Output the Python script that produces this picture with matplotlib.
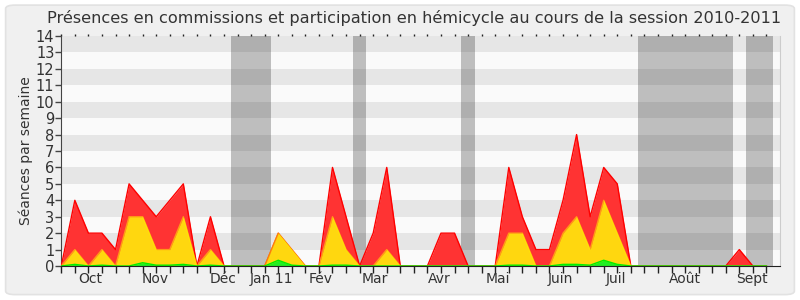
import matplotlib
matplotlib.use("Agg")
import matplotlib.pyplot as plt
from matplotlib.patches import FancyBboxPatch
import numpy as np

# weekly values, session 2010-2011 (week index 0 = end of september)
weeks = list(range(53))
total = [0, 4, 2, 2, 1, 5, 4, 3, 4, 5, 0, 3, 0, 0, 0, 0, 2, 1, 0, 0,
         6, 3, 0, 2, 6, 0, 0, 0, 2, 2, 0, 0, 0, 6, 3, 1, 1, 4, 8, 3,
         6, 5, 0, 0, 0, 0, 0, 0, 0, 0, 1, 0, 0]
hemicycle = [0, 1, 0, 1, 0, 3, 3, 1, 1, 3, 0, 1, 0, 0, 0, 0, 2, 1, 0, 0,
             3, 1, 0, 0, 1, 0, 0, 0, 0, 0, 0, 0, 0, 2, 2, 0, 0, 2, 3, 1,
             4, 2, 0, 0, 0, 0, 0, 0, 0, 0, 0, 0, 0]
questions = [0, 0.1, 0, 0.05, 0, 0, 0.2, 0.05, 0.05, 0.1, 0, 0.05, 0, 0, 0, 0, 0.35, 0.05, 0, 0,
             0.05, 0.05, 0, 0, 0, 0, 0, 0, 0, 0, 0, 0, 0, 0.05, 0.05, 0, 0, 0.1, 0.1, 0.05,
             0.35, 0.1, 0, 0, 0, 0, 0, 0, 0, 0, 0, 0, 0]

# parliamentary holidays (in week units)
vacances = [(12.5, 15.5), (21.5, 22.5), (29.5, 30.5), (42.5, 49.5), (50.5, 52.5)]

mois = ["Oct", "Nov", "Déc", "Jan 11", "Fév", "Mar", "Avr", "Mai", "Juin", "Juil", "Août", "Sept"]
mois_pos = [2.1, 6.9, 11.9, 15.5, 19.1, 23.1, 27.9, 32.2, 36.8, 40.9, 45.95, 50.9]

fig = plt.figure(figsize=(8, 3), dpi=100)
fig.patch.set_facecolor("white")
fig.patches.append(FancyBboxPatch((0.007, 0.018), 0.986, 0.965,
                                  boxstyle="round,pad=0,rounding_size=0.012",
                                  transform=fig.transFigure, facecolor="#f0f0f0",
                                  edgecolor="#e2e2e2", linewidth=1.2, zorder=-10))

ax = fig.add_axes([0.0766, 0.1133, 0.8984, 0.7667])
ax.set_facecolor("#fafafa")
ax.set_xlim(0, 53)
ax.set_ylim(0, 14)

# holidays first, then the darker stripes laid over everything
for a, b in vacances:
    ax.axvspan(a, b, color="#bebebe", lw=0, zorder=1)
for y in range(1, 14, 2):
    ax.axhspan(y, y + 1, color="black", alpha=0.08, lw=0, zorder=2)

x = np.array(weeks)
ax.fill_between(x, total, color="#ff3333", lw=0, zorder=3)
ax.plot(x, total, color="#ff0000", lw=1, zorder=4)
ax.fill_between(x, hemicycle, color="#ffd70f", lw=0, zorder=5)
ax.plot(x, hemicycle, color="#ffee00", lw=1, alpha=0.55, zorder=6)
ax.fill_between(x, questions, color="#22ee22", lw=0, zorder=7)
ax.plot(x, questions, color="#00ee00", lw=1, zorder=8)

ax.set_xticks(weeks)
ax.set_xticklabels([])
ax.set_xticks(mois_pos, minor=True)
ax.set_xticklabels(mois, minor=True, fontsize=10, color="#333333")
ax.tick_params(axis="x", which="minor", length=0, pad=4)
ax.tick_params(axis="x", which="major", top=True, direction="out", length=5, width=1, color="#222222")
for t in ax.xaxis.get_major_ticks():
    t.tick2line.set_markersize(1.2)

ax.set_yticks(range(15))
ax.tick_params(axis="y", length=4, width=1, color="#444444", labelsize=10.5, labelcolor="#333333", pad=1)
ax.set_ylabel("Séances par semaine", fontsize=10, color="#333333", labelpad=2)

ax.spines["top"].set_visible(False)
ax.spines["right"].set_color("#cccccc")
ax.spines["left"].set_color("#444444")
ax.spines["bottom"].set_color("#222222")
ax.spines["bottom"].set_zorder(10)

ax.set_title("Présences en commissions et participation en hémicycle au cours de la session 2010-2011",
             fontsize=11.6, color="#333333", pad=9, x=0.491)

fig.savefig("out.png", dpi=100, facecolor=fig.get_facecolor())
